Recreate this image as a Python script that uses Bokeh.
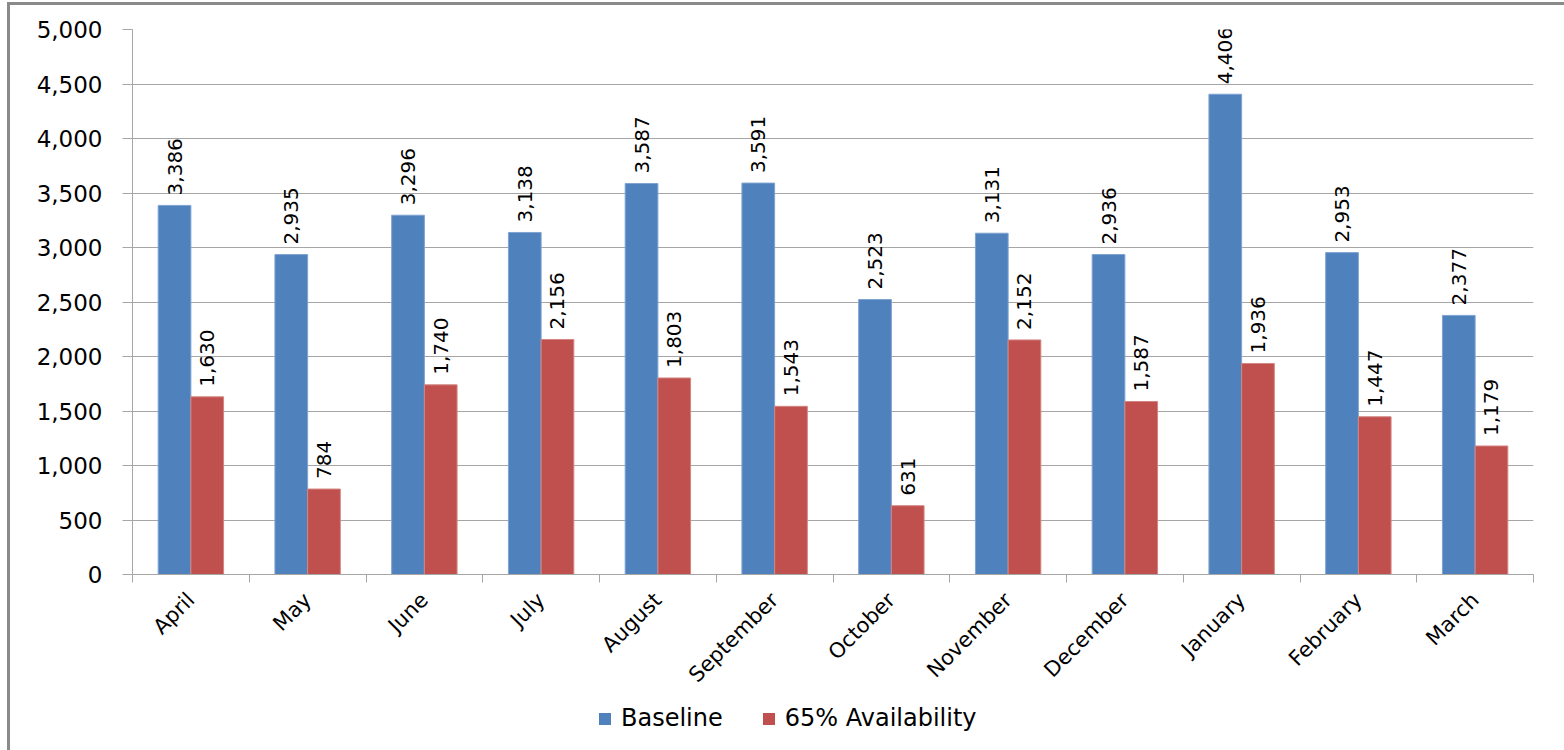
import math
from bokeh.plotting import figure
from bokeh.layouts import column
from bokeh.models import (ColumnDataSource, FixedTicker, NumeralTickFormatter, Range1d,
                          Legend, LegendItem, LabelSet)
from bokeh.transform import dodge
from bokeh.core.properties import value
from bokeh.embed import file_html
from bokeh.resources import INLINE

months = ["April", "May", "June", "July", "August", "September", "October",
          "November", "December", "January", "February", "March"]
baseline = [3386, 2935, 3296, 3138, 3587, 3591, 2523, 3131, 2936, 4406, 2953, 2377]
avail65 = [1630, 784, 1740, 2156, 1803, 1543, 631, 2152, 1587, 1936, 1447, 1179]
y_ticks = [0, 500, 1000, 1500, 2000, 2500, 3000, 3500, 4000, 4500, 5000]
series_names = ["Baseline", "65% Availability"]

BLUE = "#4F81BD"
RED = "#C0504D"
GRID = "#a6a6a6"
FONT = "DejaVu Sans"
BW = 0.28
PAD = 92  # label gap above bar (data units)

xs = [i + 0.5 for i in range(len(months))]
src = ColumnDataSource(dict(
    x=xs, base=baseline, av=avail65,
    base_lbl=[f"{v:,}" for v in baseline], av_lbl=[f"{v:,}" for v in avail65],
    base_y=[v + PAD for v in baseline], av_y=[v + PAD for v in avail65],
))

p = figure(width=1554, height=693, output_backend="svg", toolbar_location=None,
           x_range=Range1d(0, len(months)), y_range=Range1d(0, 5000),
           min_border_left=122, min_border_top=24, min_border_right=31, min_border_bottom=121)
p.outline_line_color = None
p.background_fill_color = "white"
p.border_fill_color = "white"

p.vbar(x=dodge("x", -BW / 2, range=p.x_range), top="base", width=BW, source=src,
       fill_color=BLUE, line_color="#7fa3d0", line_width=1)
p.vbar(x=dodge("x", BW / 2, range=p.x_range), top="av", width=BW, source=src,
       fill_color=RED, line_color="#d48582", line_width=1)

for col, ycol, off in (("base_lbl", "base_y", -BW / 2), ("av_lbl", "av_y", BW / 2)):
    p.add_layout(LabelSet(x=dodge("x", off, range=p.x_range), y=ycol, text=col, source=src,
                          angle=math.pi / 2, text_align="left", text_baseline="middle",
                          text_font=value(FONT), text_font_size=value("20px"),
                          text_color=value("black")))

# axes
p.yaxis.ticker = FixedTicker(ticks=y_ticks)
p.yaxis.formatter = NumeralTickFormatter(format="0,0")
p.yaxis.major_label_text_font = FONT
p.yaxis.major_label_text_font_size = "23px"
p.yaxis.major_label_text_color = "black"
p.yaxis.axis_line_color = GRID
p.yaxis.major_tick_line_color = GRID
p.yaxis.major_tick_out = 10
p.yaxis.major_tick_in = 0
p.yaxis.minor_tick_line_color = None
p.yaxis.major_label_standoff = 20

p.xaxis.ticker = FixedTicker(ticks=xs, minor_ticks=list(range(len(months) + 1)))
p.xaxis.major_label_overrides = {x: m for x, m in zip(xs, months)}
p.xaxis.major_label_orientation = math.pi / 4
p.xaxis.major_label_text_font = FONT
p.xaxis.major_label_text_font_size = "21px"
p.xaxis.major_label_text_color = "black"
p.xaxis.axis_line_color = GRID
p.xaxis.major_tick_line_color = None
p.xaxis.minor_tick_line_color = GRID
p.xaxis.minor_tick_out = 8
p.xaxis.minor_tick_in = 0
p.xaxis.major_label_standoff = 14

p.xgrid.grid_line_color = None
p.ygrid.grid_line_color = GRID
p.ygrid.grid_line_width = 1

# legend strip (separate figure below the chart); its swatch renderers are hidden
p2 = figure(width=1554, height=52, output_backend="svg", toolbar_location=None,
            x_axis_type=None, y_axis_type=None, min_border=0,
            x_range=Range1d(0, 1), y_range=Range1d(0, 1))
p2.outline_line_color = None
p2.grid.grid_line_color = None
e1 = p2.vbar(x=[0], top=[baseline[0]], width=0.1, fill_color=BLUE, line_color=None, visible=False)
e2 = p2.vbar(x=[0], top=[avail65[0]], width=0.1, fill_color=RED, line_color=None, visible=False)
legend = Legend(items=[LegendItem(label=series_names[0], renderers=[e1]),
                       LegendItem(label=series_names[1], renderers=[e2])],
                orientation="horizontal", location=(465, 18),
                label_text_font=FONT, label_text_font_size="24px", label_text_color="black",
                glyph_width=15, glyph_height=15, spacing=38, label_standoff=9,
                margin=0, padding=8, inactive_fill_alpha=0,
                border_line_color=None, background_fill_alpha=0)
p2.add_layout(legend, "center")

layout = column(p, p2, spacing=0)
layout.margin = (2, 0, 0, 7)
layout.styles = {"border-left": "3px solid #8a8a8a", "border-top": "3px solid #8a8a8a"}

open("out.html", "w").write(file_html(layout, INLINE))
